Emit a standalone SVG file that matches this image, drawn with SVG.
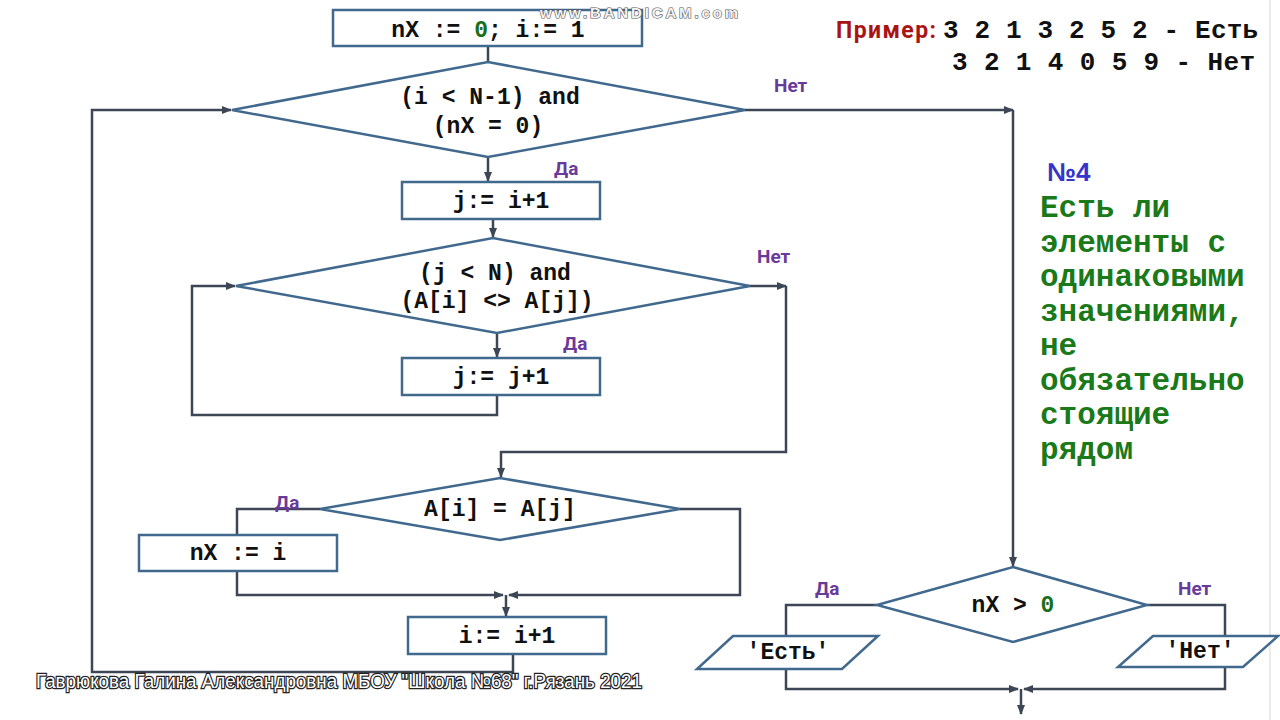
<svg xmlns="http://www.w3.org/2000/svg" width="1280" height="720" viewBox="0 0 1280 720">
<defs>
<marker id="ar" viewBox="0 0 10 10" refX="9" refY="5" markerWidth="4" markerHeight="4" orient="auto" markerUnits="strokeWidth">
<path d="M0,1 L10,5 L0,9 z" fill="#3c4654"/>
</marker>
<style>
.sh{fill:#fff;stroke:#41698e;stroke-width:2.5}
.cn{fill:none;stroke:#3c4654;stroke-width:2.5}
.cd{font-family:"Liberation Mono","Courier New",monospace;font-weight:bold;font-size:23px;fill:#111;text-anchor:middle}
.lb{font-family:Roboto,"Liberation Sans",sans-serif;font-weight:bold;font-size:19px;fill:#6a3a9a}
.gr{fill:#1a6e1a}
.tx{font-family:"Liberation Mono","Courier New",monospace;font-weight:bold;font-size:31px;fill:#1a7a1a}
.ex{font-family:"Liberation Mono","Courier New",monospace;font-weight:bold;font-size:26px;fill:#111}
</style>
</defs>
<rect width="1280" height="720" fill="#fff"/>
<line x1="1270" y1="0" x2="1270" y2="720" stroke="#e4e4e4" stroke-width="1.5"/>

<g id="connectors">
<path class="cn" d="M488,46 V62"/>
<path class="cn" d="M488,157 V181" marker-end="url(#ar)"/>
<path class="cn" d="M493,219 V237" marker-end="url(#ar)"/>
<path class="cn" d="M497,333 V357" marker-end="url(#ar)"/>
<path class="cn" d="M497,395 V415 H192 V286 H235" marker-end="url(#ar)"/>
<path class="cn" d="M750,286 H786" marker-end="url(#ar)"/>
<path class="cn" d="M786,286 V452 H501 V477" marker-end="url(#ar)"/>
<path class="cn" d="M745,110 H1013" marker-end="url(#ar)"/>
<path class="cn" d="M1013,110 V566" marker-end="url(#ar)"/>
<path class="cn" d="M513,654 V672 H92 V110 H231" marker-end="url(#ar)"/>
<path class="cn" d="M320,509 H237 V535"/>
<path class="cn" d="M237,571 V595 H503" marker-end="url(#ar)"/>
<path class="cn" d="M680,509 H740 V595 H509" marker-end="url(#ar)"/>
<path class="cn" d="M506,595 V616" marker-end="url(#ar)"/>
<path class="cn" d="M877,605 H786 V636"/>
<path class="cn" d="M1147,605 H1225 V636"/>
<path class="cn" d="M786,669 V689 H1018" marker-end="url(#ar)"/>
<path class="cn" d="M1225,667 V689 H1024" marker-end="url(#ar)"/>
<path class="cn" d="M1021,689 V714" marker-end="url(#ar)"/>
</g>

<g id="n_init">
<rect class="sh" x="333" y="10" width="309" height="36"/>
<text class="cd" x="488" y="37">nX := <tspan class="gr">0</tspan>; i:= 1</text>
</g>
<g id="n_cond1">
<polygon class="sh" points="232,110 488,62 745,110 488,157"/>
<text class="cd" x="490" y="104">(i &lt; N-1) and</text>
<text class="cd" x="488" y="133">(nX = 0)</text>
</g>
<g id="n_j1">
<rect class="sh" x="402" y="182" width="198" height="37"/>
<text class="cd" x="501" y="208">j:= i+1</text>
</g>
<g id="n_cond2">
<polygon class="sh" points="236,286 493,238 750,286 497,333"/>
<text class="cd" x="495" y="280">(j &lt; N) and</text>
<text class="cd" x="497" y="308">(A[i] &lt;&gt; A[j])</text>
</g>
<g id="n_j2">
<rect class="sh" x="402" y="358" width="198" height="37"/>
<text class="cd" x="501" y="384">j:= j+1</text>
</g>
<g id="n_cond3">
<polygon class="sh" points="320,509 500,478 680,509 500,540"/>
<text class="cd" x="500" y="516">A[i] = A[j]</text>
</g>
<g id="n_nx">
<rect class="sh" x="139" y="535" width="198" height="36"/>
<text class="cd" x="238" y="560">nX := i</text>
</g>
<g id="n_i">
<rect class="sh" x="408" y="617" width="198" height="37"/>
<text class="cd" x="507" y="643">i:= i+1</text>
</g>
<g id="n_cond4">
<polygon class="sh" points="877,605 1013,567 1147,605 1013,642"/>
<text class="cd" x="1013" y="612">nX &gt; <tspan class="gr">0</tspan></text>
</g>
<g id="n_yes">
<polygon class="sh" points="733,636 878,636 842,669 697,669"/>
<text class="cd" x="788" y="659">'Есть'</text>
</g>
<g id="n_no">
<polygon class="sh" points="1153,636 1278,636 1243,667 1118,667"/>
<text class="cd" x="1200" y="658">'Нет'</text>
</g>

<g id="labels">
<text class="lb" x="774" y="92">Нет</text>
<text class="lb" x="554" y="175">Да</text>
<text class="lb" x="757" y="263">Нет</text>
<text class="lb" x="563" y="350">Да</text>
<text class="lb" x="275" y="509">Да</text>
<text class="lb" x="815" y="595">Да</text>
<text class="lb" x="1178" y="595">Нет</text>
</g>

<g id="notes">
<text x="836" y="38" font-family="Roboto,'Liberation Sans',sans-serif" font-weight="bold" font-size="23" fill="#a81414" textLength="100">Пример:</text>
<text class="ex" x="943" y="38" textLength="315">3 2 1 3 2 5 2 - Есть</text>
<text class="ex" x="952" y="70" textLength="303">3 2 1 4 0 5 9 - Нет</text>
<text x="1047" y="181" font-family="'Liberation Sans',Arial,sans-serif" font-weight="bold" font-size="26" fill="#3535cc">№4</text>
<text class="tx" x="1040" y="217">Есть ли</text>
<text class="tx" x="1040" y="252">элементы с</text>
<text class="tx" x="1040" y="286">одинаковыми</text>
<text class="tx" x="1040" y="321">значениями,</text>
<text class="tx" x="1040" y="355">не</text>
<text class="tx" x="1040" y="390">обязательно</text>
<text class="tx" x="1040" y="424">стоящие</text>
<text class="tx" x="1040" y="459">рядом</text>
</g>

<g id="overlay">
<text x="540" y="18" font-family="'Liberation Sans',Arial,sans-serif" font-weight="bold" font-size="15" fill="#f4f4f4" stroke="#555" stroke-width="1.2" paint-order="stroke" textLength="198">www.BANDICAM.com</text>
<text x="36" y="688" font-family="'Liberation Sans',Arial,sans-serif" font-size="20" fill="#fff" stroke="#222" stroke-width="2.5" paint-order="stroke" textLength="606" lengthAdjust="spacingAndGlyphs">Гаврюкова Галина Александровна МБОУ "Школа №68" г.Рязань 2021</text>
</g>
</svg>
